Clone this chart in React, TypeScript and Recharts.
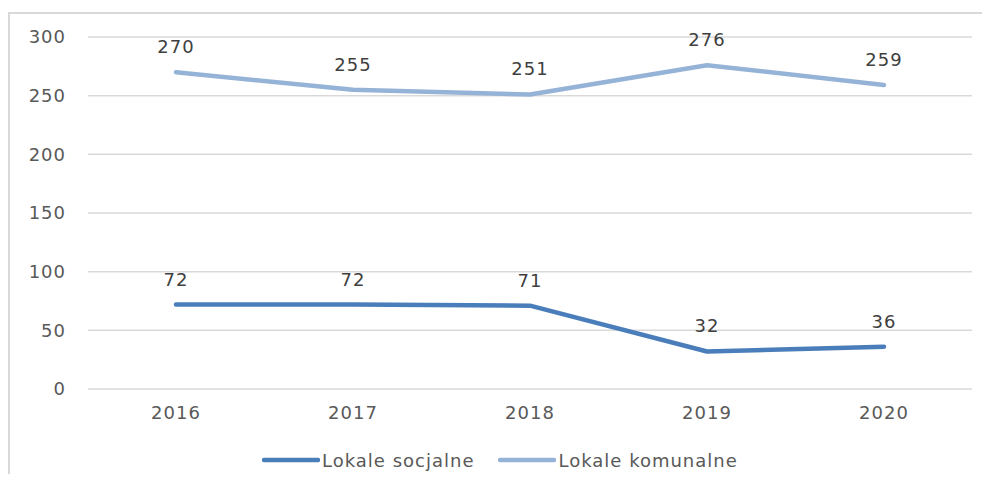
import React from "react";
import { LineChart, Line, XAxis, YAxis, CartesianGrid, LabelList } from "recharts";

const years = ["2016", "2017", "2018", "2019", "2020"];
const socjalne = [72, 72, 71, 32, 36];
const komunalne = [270, 255, 251, 276, 259];
const yTicks = [0, 50, 100, 150, 200, 250, 300];
const seriesNames = ["Lokale socjalne", "Lokale komunalne"];
const seriesColors = ["#4a7ebb", "#95b3d7"];

const data = years.map((y, i) => ({ year: y, socjalne: socjalne[i], komunalne: komunalne[i] }));

const FONT = "'DejaVu Sans', sans-serif";

export default function App() {
  return (
    <div style={{ margin: -8, width: 990, height: 482, position: "relative", overflow: "hidden", background: "#fff", fontFamily: FONT }}>
      <div style={{ position: "absolute", left: 8, top: 12, width: 1000, height: 500, borderLeft: "2px solid #d9d9d9", borderTop: "2px solid #d9d9d9" }} />
      <div style={{ position: "absolute", left: 0, top: 0 }}>
        <LineChart width={990} height={482} data={data} margin={{ top: 37, right: 18, bottom: 53, left: 0 }}>
          <CartesianGrid vertical={false} stroke="#d9d9d9" strokeWidth={1.5} />
          <XAxis
            dataKey="year"
            axisLine={false}
            tickLine={false}
            tickSize={0}
            tickMargin={17}
            height={40}
            padding={{ left: 88, right: 88 }}
            tick={{ fill: "#595959", fontSize: 18, fontFamily: FONT, letterSpacing: 1 }}
          />
          <YAxis
            domain={[0, 300]}
            ticks={yTicks}
            width={88}
            axisLine={false}
            tickLine={false}
            tickSize={0}
            tickMargin={22}
            tick={{ fill: "#595959", fontSize: 18, fontFamily: FONT, letterSpacing: 1 }}
          />
          <Line dataKey="socjalne" name={seriesNames[0]} stroke={seriesColors[0]} strokeWidth={4.5} strokeLinecap="round" strokeLinejoin="round" dot={false} isAnimationActive={false}>
            <LabelList dataKey="socjalne" position="top" offset={19} fill="#404040" fontSize={18} fontFamily={FONT} style={{ letterSpacing: 1 }} />
          </Line>
          <Line dataKey="komunalne" name={seriesNames[1]} stroke={seriesColors[1]} strokeWidth={4.5} strokeLinecap="round" strokeLinejoin="round" dot={false} isAnimationActive={false}>
            <LabelList dataKey="komunalne" position="top" offset={19} fill="#404040" fontSize={18} fontFamily={FONT} style={{ letterSpacing: 1 }} />
          </Line>
        </LineChart>
      </div>
      <div style={{ position: "absolute", left: 262, top: 448, height: 24, display: "flex", alignItems: "center", fontSize: 18, color: "#595959", letterSpacing: 1, fontFamily: FONT }}>
        {seriesNames.map((n, i) => (
          <div key={n} style={{ display: "flex", alignItems: "center", marginRight: i === 0 ? 24 : 0 }}>
            <svg width={58} height={8} style={{ marginRight: 2 }}>
              <line x1={2} y1={4} x2={56} y2={4} stroke={seriesColors[i]} strokeWidth={4.5} strokeLinecap="round" />
            </svg>
            <span>{n}</span>
          </div>
        ))}
      </div>
    </div>
  );
}
